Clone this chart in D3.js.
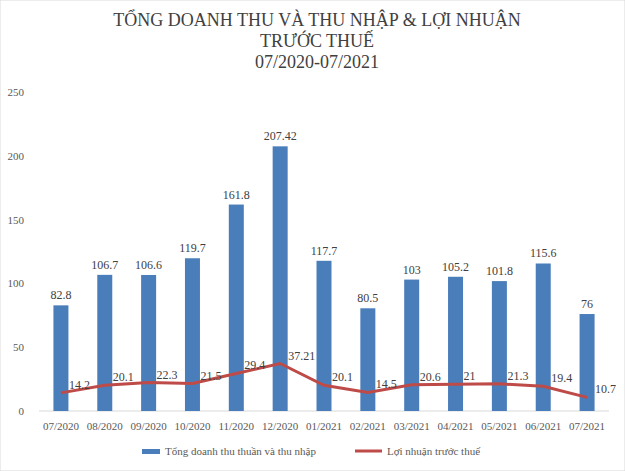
<!DOCTYPE html>
<html>
<head>
<meta charset="utf-8">
<script src="https://cdn.jsdelivr.net/npm/d3@7"></script>
<style>
  body { margin: 0; background: #fff; }
  text { font-family: "Liberation Serif", "Times New Roman", serif; }
</style>
</head>
<body>
<svg id="chart" width="625" height="471"></svg>
<script>
var months = ["07/2020","08/2020","09/2020","10/2020","11/2020","12/2020","01/2021","02/2021","03/2021","04/2021","05/2021","06/2021","07/2021"];
var revenue = [82.8,106.7,106.6,119.7,161.8,207.42,117.7,80.5,103,105.2,101.8,115.6,76];
var profit = [14.2,20.1,22.3,21.5,29.4,37.21,20.1,14.5,20.6,21,21.3,19.4,10.7];
var yTicks = [0,50,100,150,200,250];

var svg = d3.select("#chart");
svg.append("rect").attr("width", 625).attr("height", 471).attr("fill", "#fff").attr("stroke", "#d9d9d9");

var x = d3.scaleBand().domain(months).range([39, 609]);
var y = d3.scaleLinear().domain([0, 250]).range([411, 92]);

// title
var title = ["TỔNG DOANH THU VÀ THU NHẬP & LỢI NHUẬN", "TRƯỚC THUẾ", "07/2020-07/2021"];
svg.selectAll("text.title").data(title).enter().append("text")
  .attr("class", "title")
  .attr("x", 317).attr("y", function (d, i) { return 26 + i * 21; })
  .attr("text-anchor", "middle").attr("font-size", 18).attr("fill", "#404040")
  .text(function (d) { return d; });

// y axis labels
svg.selectAll("text.ytick").data(yTicks).enter().append("text")
  .attr("class", "ytick")
  .attr("x", 24).attr("y", function (d) { return y(d) + 4; })
  .attr("text-anchor", "end").attr("font-size", 11).attr("fill", "#595959")
  .text(function (d) { return d; });

// baseline
svg.append("line").attr("x1", 39).attr("x2", 609).attr("y1", y(0)).attr("y2", y(0))
  .attr("stroke", "#d9d9d9");

// bars
var bw = 15;
svg.selectAll("rect.bar").data(revenue).enter().append("rect")
  .attr("class", "bar")
  .attr("x", function (d, i) { return x(months[i]) + x.bandwidth() / 2 - bw / 2; })
  .attr("y", function (d) { return y(d); })
  .attr("width", bw)
  .attr("height", function (d) { return y(0) - y(d); })
  .attr("fill", "#4a7ebb");

svg.selectAll("text.blabel").data(revenue).enter().append("text")
  .attr("class", "blabel")
  .attr("x", function (d, i) { return x(months[i]) + x.bandwidth() / 2; })
  .attr("y", function (d) { return y(d) - 6; })
  .attr("text-anchor", "middle").attr("font-size", 12).attr("fill", "#404040")
  .text(function (d) { return d; });

// line
var line = d3.line()
  .x(function (d, i) { return x(months[i]) + x.bandwidth() / 2; })
  .y(function (d) { return y(d); });
svg.append("path").datum(profit).attr("d", line)
  .attr("fill", "none").attr("stroke", "#be4b48").attr("stroke-width", 3);

svg.selectAll("text.plabel").data(profit).enter().append("text")
  .attr("class", "plabel")
  .attr("x", function (d, i) { return x(months[i]) + x.bandwidth() / 2 + 8; })
  .attr("y", function (d) { return y(d) - 4; })
  .attr("font-size", 12).attr("fill", "#404040")
  .text(function (d) { return d; });

// x labels
svg.selectAll("text.xtick").data(months).enter().append("text")
  .attr("class", "xtick")
  .attr("x", function (d) { return x(d) + x.bandwidth() / 2; })
  .attr("y", 430)
  .attr("text-anchor", "middle").attr("font-size", 11).attr("fill", "#595959")
  .text(function (d) { return d; });

// legend
var lg = svg.append("g");
lg.append("rect").attr("x", 142).attr("y", 449).attr("width", 18).attr("height", 5).attr("fill", "#4a7ebb");
lg.append("text").attr("x", 165).attr("y", 455).attr("font-size", 11).attr("fill", "#595959")
  .text("Tổng doanh thu thuần và thu nhập");
lg.append("line").attr("x1", 355).attr("x2", 382).attr("y1", 451).attr("y2", 451)
  .attr("stroke", "#be4b48").attr("stroke-width", 3);
lg.append("text").attr("x", 387).attr("y", 455).attr("font-size", 11).attr("fill", "#595959")
  .text("Lợi nhuận trước thuế");
</script>
</body>
</html>
